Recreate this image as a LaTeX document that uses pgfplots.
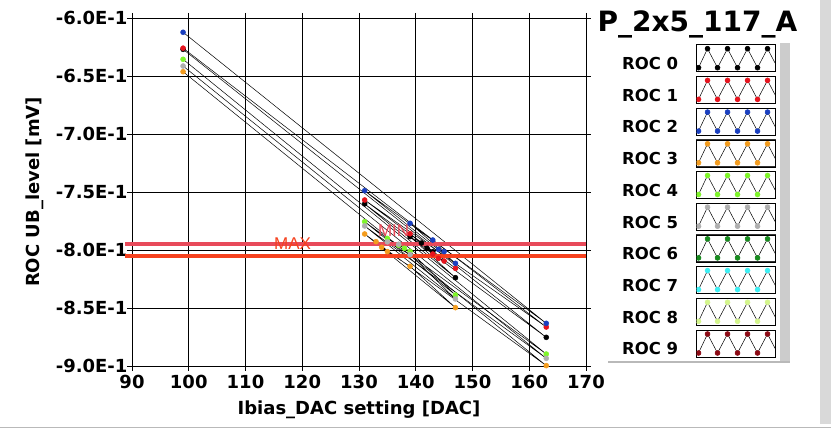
\documentclass[border=0pt]{standalone}
\usepackage{fontspec}
\setmainfont{DejaVu Sans}
\newfontfamily\libsans{Liberation Sans}
\usepackage{pgfplots}
\pgfplotsset{compat=1.18}
\definecolor{rocA}{HTML}{000000}
\definecolor{rocB}{HTML}{E6141E}
\definecolor{rocC}{HTML}{1A3FBF}
\definecolor{rocD}{HTML}{F39C1E}
\definecolor{rocE}{HTML}{7FF52A}
\definecolor{rocF}{HTML}{AFAFAF}
\definecolor{rocG}{HTML}{178A1E}
\definecolor{rocH}{HTML}{3CF0F5}
\definecolor{rocI}{HTML}{D4F58C}
\definecolor{rocJ}{HTML}{8C0A14}
\definecolor{minc}{HTML}{E84A5A}
\definecolor{maxc}{HTML}{F5411E}
\newcommand{\rocimg}[1]{%
  \draw[line width=0.8pt, draw=black!80, fill=white] (0pt,-7.5pt) rectangle (79pt,19.5pt);
  \begin{scope}
  \clip (0pt,-7.5pt) rectangle (79pt,19.5pt);
  \draw[black, line width=0.5pt] (2pt,-3.5pt) -- (11pt,15.5pt) -- (21pt,-3.5pt) -- (31pt,15.5pt) -- (41pt,-3.5pt) -- (51pt,15.5pt) -- (61pt,-3.5pt) -- (71pt,15.5pt) -- (81pt,-3.5pt);
  \foreach \xx in {2,21,41,61} {\fill[#1] (\xx pt,-3.5pt) circle (2.5pt);}
  \foreach \xx in {11,31,51,71} {\fill[#1] (\xx pt,15.5pt) circle (2.5pt);}
  \end{scope}}
\pgfplotsset{
  rocplot/.style={black, line width=0.5pt, mark=*, mark size=2.5pt, mark options={draw=#1, fill=#1}, legend image code/.code={\rocimg{#1}}},
}
\begin{document}
\begin{tikzpicture}
\useasboundingbox (0,0) rectangle (831pt,430pt);
% window / panel decorations
\fill[gray!30] (820pt,6pt) rectangle (831pt,430pt);
\draw[gray!55, line width=1.5pt] (0pt,2.5pt) -- (831pt,2.5pt);
\fill[gray!40] (780pt,68pt) rectangle (790pt,387pt);
\draw[gray!55, line width=1.5pt] (608pt,68pt) -- (790pt,68pt);
\node[anchor=base, font=\bfseries\fontsize{28}{30}\selectfont] at (697.5pt,398pt) {P\_2x5\_117\_A};
\begin{axis}[
  at={(132pt,64pt)}, anchor=south west, scale only axis,
  width=454pt, height=348pt,
  xmin=90, xmax=170, ymin=-0.9, ymax=-0.6,
  xtick={90,100,110,120,130,140,150,160,170},
  xticklabels={90,100,110,120,130,140,150,160,170},
  ytick={-0.9,-0.85,-0.8,-0.75,-0.7,-0.65,-0.6},
  yticklabels={-9.0E-1,-8.5E-1,-8.0E-1,-7.5E-1,-7.0E-1,-6.5E-1,-6.0E-1},
  grid=major, grid style={black, line width=0.8pt},
  axis line style={black, line width=0.8pt},
  tick align=outside, major tick length=5pt, tick style={black, line width=0.6pt},
  ticklabel style={font=\bfseries\fontsize{18}{20}\selectfont},
  yticklabel style={xshift=4pt},
  xticklabel style={yshift=-1pt},
  xlabel={Ibias\_DAC setting [DAC]}, ylabel={ROC UB\_level [mV]},
  label style={font=\bfseries\fontsize{18}{20}\selectfont},
  xlabel style={yshift=-5pt},
  ylabel style={yshift=5pt},
  clip=false,
  legend plot pos=right,
  legend cell align=left,
  legend style={at={(axis description cs:1.079,0.925)}, anchor=north west, draw=none, fill=none, inner sep=0pt, row sep=3.9pt, column sep=18pt, font=\bfseries\fontsize{16.5}{18}\selectfont, nodes={inner sep=0pt}},
]
\addplot[rocplot=rocA] coordinates {(99,-0.627) (163,-0.8753) (131,-0.7603) (147,-0.8239) (139,-0.7885) (143,-0.8015) (141,-0.7940) (142,-0.7985)};
\addlegendentry{ROC 0}
\addplot[rocplot=rocB] coordinates {(99,-0.626) (163,-0.8664) (131,-0.7569) (147,-0.8158) (139,-0.7860) (143,-0.8035) (145,-0.8095) (144,-0.8072)};
\addlegendentry{ROC 1}
\addplot[rocplot=rocC] coordinates {(99,-0.6123) (163,-0.8632) (131,-0.7489) (147,-0.8115) (139,-0.7770) (143,-0.7914) (145,-0.8014) (144,-0.7994)};
\addlegendentry{ROC 2}
\addplot[rocplot=rocD] coordinates {(99,-0.6463) (163,-0.8997) (131,-0.7862) (147,-0.8497) (139,-0.8141) (135,-0.8014) (133,-0.7928) (134,-0.7977)};
\addlegendentry{ROC 3}
\addplot[rocplot=rocE] coordinates {(99,-0.6356) (163,-0.8897) (131,-0.7756) (147,-0.8388) (139,-0.8012) (135,-0.7900) (137,-0.7960) (138,-0.7985)};
\addlegendentry{ROC 4}
\addplot[rocplot=rocF] coordinates {(99,-0.6414) (163,-0.8934) (131,-0.7793) (147,-0.8422) (139,-0.8040) (135,-0.7930) (137,-0.7950)};
\addlegendentry{ROC 5}
\addlegendimage{rocplot=rocG}\addlegendentry{ROC 6}
\addlegendimage{rocplot=rocH}\addlegendentry{ROC 7}
\addlegendimage{rocplot=rocI}\addlegendentry{ROC 8}
\addlegendimage{rocplot=rocJ}\addlegendentry{ROC 9}
\addplot[forget plot, color=minc, line width=4pt] coordinates {(88.8,-0.795) (170,-0.795)};
\addplot[forget plot, color=maxc, line width=4pt] coordinates {(88.8,-0.805) (170,-0.805)};
\node[text=maxc, font=\libsans\fontsize{17}{17}\selectfont] at (axis cs:118.3,-0.7944) {MAX};
\node[text=minc, font=\libsans\fontsize{17}{17}\selectfont] at (axis cs:136.1,-0.7832) {MIN};
\end{axis}
\end{tikzpicture}
\end{document}
